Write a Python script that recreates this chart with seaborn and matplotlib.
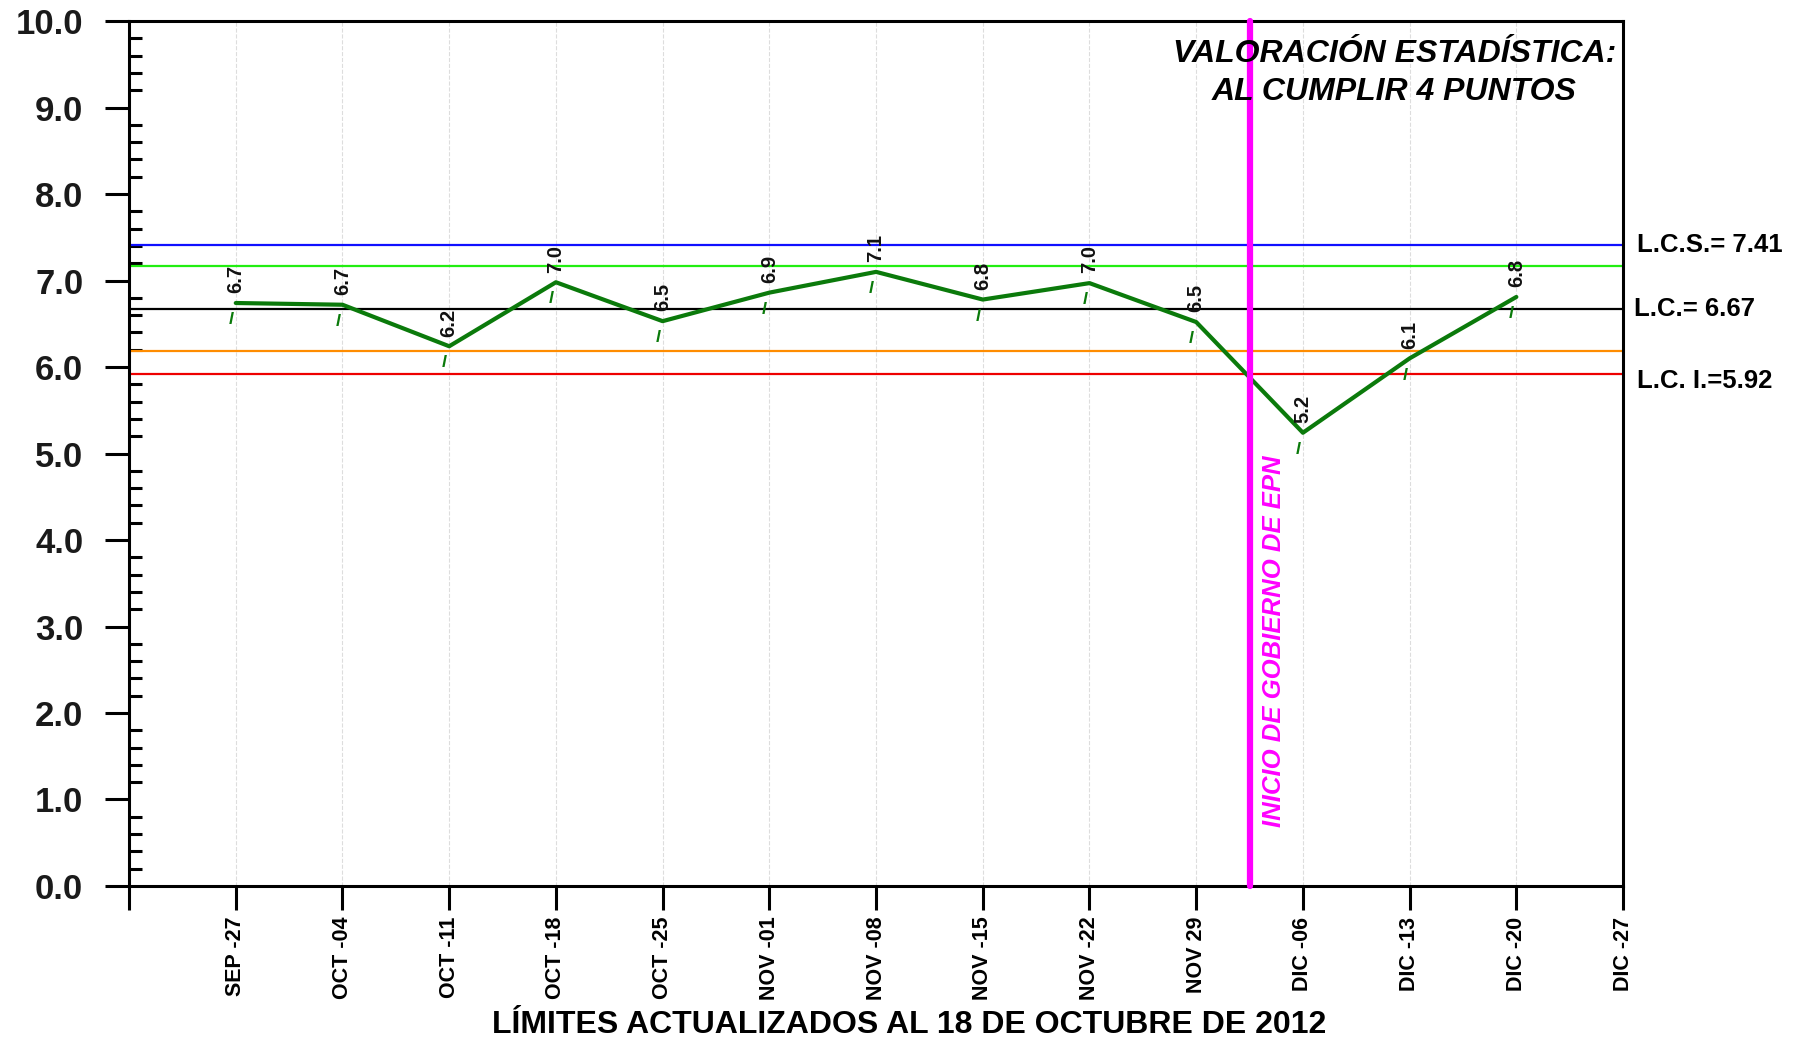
import numpy as np
import pandas as pd
import matplotlib
matplotlib.use('Agg')
import matplotlib.pyplot as plt
import seaborn as sns

# ========================================
# Datos
# ========================================
semanas = ['SEP -27', 'OCT -04', 'OCT -11', 'OCT -18', 'OCT -25', 'NOV -01', 'NOV -08',
           'NOV -15', 'NOV -22', 'NOV 29', 'DIC -06', 'DIC -13', 'DIC -20', 'DIC -27']
valores = [6.74, 6.72, 6.24, 6.98, 6.53, 6.86, 7.10, 6.78, 6.97, 6.52, 5.24, 6.10, 6.81]

lcs = 7.41
lc = 6.67
lci = 5.92
zona_sup = 7.17
zona_inf = 6.18
inicio_epn = 10.5  # entre NOV 29 y DIC -06

df = pd.DataFrame({'pos': np.arange(1, len(valores) + 1), 'valor': valores})

# ========================================
# Estilo
# ========================================
sns.set_style('white')
plt.rcParams['font.family'] = ['Liberation Sans', 'DejaVu Sans']
plt.rcParams['text.color'] = 'black'
plt.rcParams['axes.labelcolor'] = 'black'
plt.rcParams['xtick.color'] = 'black'
plt.rcParams['ytick.color'] = 'black'

fig, ax = plt.subplots(figsize=(18, 10.41), dpi=100)
fig.subplots_adjust(left=0.0717, right=0.9017, top=0.9798, bottom=0.1489)

# lineas de control
ax.axhline(lcs, color='#1010ff', lw=1.6, zorder=2)
ax.axhline(zona_sup, color='#22ee11', lw=1.6, zorder=2)
ax.axhline(lc, color='black', lw=1.6, zorder=2)
ax.axhline(zona_inf, color='#ff8c00', lw=1.6, zorder=2)
ax.axhline(lci, color='#ee0000', lw=1.6, zorder=2)

# serie
sns.lineplot(data=df, x='pos', y='valor', color='#0b7a0b', lw=3, ax=ax, zorder=4)

for x, v in zip(df['pos'], df['valor']):
    ax.annotate(f'{v:.1f}', (x, v), xytext=(0, 7), textcoords='offset points',
                rotation=90, ha='center', va='bottom', fontsize=14.5, fontweight='bold',
                color='#111111', zorder=5)
    ax.annotate('l', (x, v), xytext=(-3.5, -12), textcoords='offset points',
                ha='center', va='center', fontsize=12, fontweight='bold', fontstyle='italic',
                color='#0b7a0b', zorder=5)

# inicio de gobierno
ax.axvline(inicio_epn, color='#ff00ff', lw=4.5, zorder=6, clip_on=False)
ax.text(10.73, 2.83, 'INICIO DE GOBIERNO DE EPN', rotation=90, ha='center', va='center',
        fontsize=18.5, fontweight='bold', fontstyle='italic', color='#ff00ff', zorder=6)

ax.text(0.847, 0.979, 'VALORACIÓN ESTADÍSTICA:\nAL CUMPLIR 4 PUNTOS', transform=ax.transAxes,
        ha='center', va='top', fontsize=23, fontweight='bold', fontstyle='italic',
        linespacing=1.34, zorder=7)

# etiquetas a la derecha
ytr = ax.get_yaxis_transform()
ax.text(1.009, lcs, 'L.C.S.= 7.41', transform=ytr, ha='left', va='center',
        fontsize=18.5, fontweight='bold')
ax.text(1.007, lc, 'L.C.= 6.67', transform=ytr, ha='left', va='center',
        fontsize=18.5, fontweight='bold')
ax.text(1.009, lci - 0.08, 'L.C. I.=5.92', transform=ytr, ha='left', va='center',
        fontsize=18.5, fontweight='bold')

# ejes
ax.set_xlim(0, 14)
ax.set_ylim(0, 10)
ax.set_xticks(np.arange(0, 15))
ax.set_xticklabels([''] + semanas, rotation=90, fontsize=15.5, fontweight='bold')
ax.set_yticks(np.arange(0, 10.1, 1))
ax.set_yticklabels([f'{v:.1f}' for v in np.arange(0, 10.1, 1)], fontsize=25, fontweight='bold',
                   color='#1a1a1a')
ax.set_yticks(np.arange(0, 10.01, 0.2), minor=True)
ax.tick_params(axis='y', which='major', direction='out', length=17, width=2.2, pad=16, left=True)
ax.tick_params(axis='y', which='minor', direction='in', length=9, width=2.2, left=True)
ax.tick_params(axis='x', which='major', direction='out', length=17, width=2.2, pad=5, bottom=True)

ax.xaxis.grid(True, color='#dddddd', linestyle='--', lw=0.8)
ax.yaxis.grid(False)
for s in ax.spines.values():
    s.set_linewidth(2.2)
    s.set_color('black')

ax.set_ylabel('')
ax.set_xlabel('LÍMITES ACTUALIZADOS AL 18 DE OCTUBRE DE 2012', fontsize=23, fontweight='bold',
              va='center')
ax.xaxis.set_label_coords(0.522, -0.161)

fig.savefig('out.png', dpi=100)
